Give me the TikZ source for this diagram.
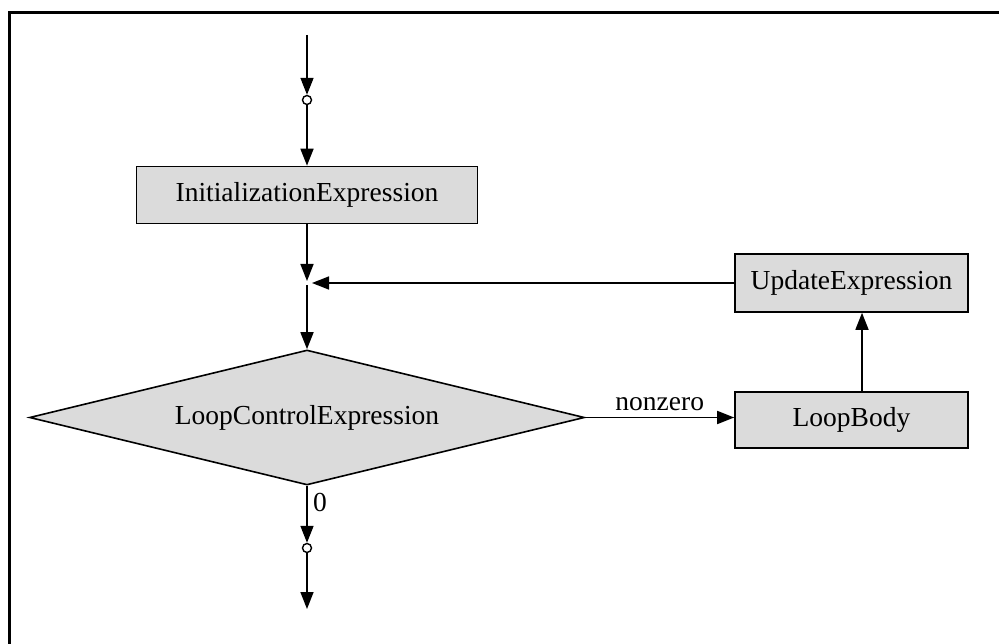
\documentclass[tikz,border=0pt]{standalone}
\usepackage{fontspec}
\setmainfont{Liberation Serif}
\usetikzlibrary{arrows.meta,shapes.geometric}
\begin{document}
\begin{tikzpicture}[x=1pt,y=-1pt,
  box/.style={draw,line width=1.6pt,fill=gray!28,minimum height=56pt,inner sep=0pt,font=\fontsize{27.5}{30}\selectfont},
  dia/.style={draw,line width=1.6pt,fill=gray!28,diamond,aspect=4.1,minimum width=555pt,minimum height=135pt,inner sep=0pt,font=\fontsize{27.5}{30}\selectfont},
  con/.style={line width=1.6pt,-{Triangle[length=17pt,width=13pt]}},
  dot/.style={circle,draw,line width=1.4pt,fill=white,minimum size=9pt,inner sep=0pt},
  lab/.style={font=\fontsize{27.5}{30}\selectfont}]
\useasboundingbox (0,0) rectangle (999,644);
\fill[white] (0,0) rectangle (999,644);
\draw[line width=3pt] (9,650) -- (9,13) -- (1005,13);
% nodes
\node[box,minimum width=341pt,minimum height=57pt] (init) at (307,195) {InitializationExpression};
\node[box,minimum width=233pt,minimum height=58pt] (upd) at (851.5,283) {UpdateExpression};
\node[box,minimum width=233pt,minimum height=56pt] (body) at (851.5,420) {LoopBody};
\node[dia] (ctl) at (307,417.5) {LoopControlExpression};
\coordinate (start) at (307,35);
\node[dot] (c1) at (307,100) {};
\coordinate (jt) at (307,281);
\coordinate (jr) at (312,283);
\coordinate (jb) at (307,285);
\node[dot] (c2) at (307,548) {};
\coordinate (end) at (307,609);
% connectors
\draw[con] (start) -- (c1);
\draw[con] (c1) -- (init);
\draw[con] (init) -- (jt);
\draw[con] (upd.west) -- (jr);
\draw[con] (jb) -- (ctl.north);
\draw[con] (ctl.east) -- node[lab,above=3pt] {nonzero} (ctl.east -| body.west);
\draw[con] (body.north -| 862,0) -- (upd.south -| 862,0);
\draw[con] (ctl.south) -- node[lab,right=2pt,pos=0.3] {0} (c2);
\draw[con] (c2) -- (end);
\end{tikzpicture}
\end{document}
